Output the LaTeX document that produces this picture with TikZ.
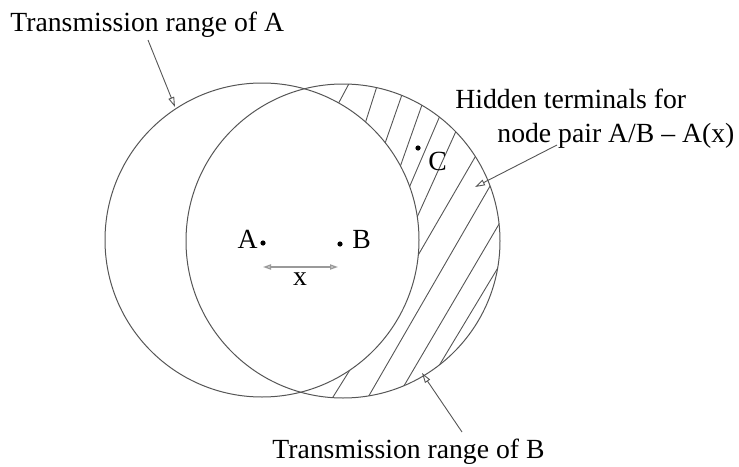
\documentclass[tikz,border=0pt]{standalone}
\usepackage{fontspec}
\setmainfont{Liberation Serif}
\usetikzlibrary{arrows.meta,positioning}
\definecolor{Ink}{HTML}{555555}
\definecolor{Dist}{HTML}{9A9A9A}

\begin{document}
\begin{tikzpicture}[
  x=0.5pt,y=-0.5pt,
  txrange/.style={draw=Ink,line width=0.5pt},
  hatchline/.style={draw=Ink,line width=0.45pt},
  lbl/.style={inner sep=0pt,font=\fontsize{13.85}{16.6}\selectfont},
  station/.style={circle,fill=black,inner sep=0pt,minimum size=2.6pt},
  callout/.style={draw=Ink,line width=0.45pt,-{Triangle[open,length=5pt,width=3pt]}},
  distarrow/.style={draw=Dist,line width=0.7pt,{Triangle[open,length=4pt,width=2.6pt]}-{Triangle[open,length=4pt,width=2.6pt]}}
]
  \useasboundingbox (0,0) rectangle (739,466);
  \coordinate (ctrA) at (262,240);
  \coordinate (ctrB) at (343,241);

  % hidden terminal area
  \begin{scope}[even odd rule]
    \clip (ctrB) circle (157);
    \clip (0,0) rectangle (739,466) (ctrA) circle (157);
    \foreach \xa/\ya/\xb/\yb in {336/108/352/78, 364/127/378/83, 382/152/405/86,
        399/170/423/102, 406/195/442/111, 414/224/457/129, 413/264/478/152,
        363/406/497/174, 398/396/502/219, 434/374/502/261, 328/405/353/365}
      \draw[hatchline] (\xa,\ya) -- (\xb,\yb);
  \end{scope}

  \draw[txrange] (ctrA) circle (157);
  \draw[txrange] (ctrB) circle (157);

  % stations
  \node[station] (dotA) at (263,243) {};
  \node[station] (dotB) at (340,244) {};
  \node[station] (dotC) at (418,148) {};
  \node[lbl,anchor=base east] (labA) at (258,248) {A};
  \node[lbl,anchor=base west] (labB) at (352,248) {B};
  \node[lbl,anchor=base west] (labC) at (428,170) {C};

  % distance x
  \coordinate (xl) at (263,267);
  \coordinate (xr) at (338,267);
  \draw[distarrow] (xl) -- (xr);
  \node[lbl,anchor=base] (labX) at (300,285) {x};

  % labels
  \node[lbl,anchor=base west] (rngA) at (10,32) {Transmission range of A};
  \node[lbl,anchor=base west] (hid1) at (455,108) {Hidden terminals for};
  \node[lbl,anchor=base west] (hid2) at (497,142) {node pair A/B -- A(x)};
  \node[lbl,anchor=base west] (rngB) at (272,458) {Transmission range of B};

  \coordinate (tailA) at (148,40);
  \coordinate (tipA) at (175,107);
  \coordinate (tailH) at (557,145);
  \coordinate (tipH) at (475,187);
  \coordinate (tailB) at (462,432);
  \coordinate (tipB) at (422,373);
  \draw[callout] (tailA) -- (tipA);
  \draw[callout] (tailH) -- (tipH);
  \draw[callout] (tailB) -- (tipB);
\end{tikzpicture}
\end{document}
